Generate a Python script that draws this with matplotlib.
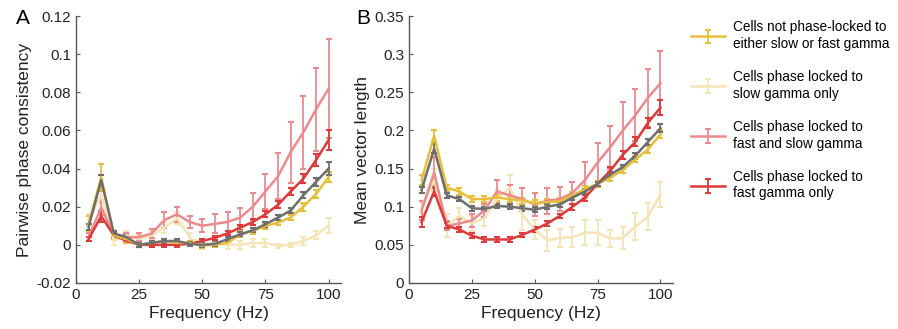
import numpy as np
import matplotlib
matplotlib.use('Agg')
import matplotlib.pyplot as plt

plt.rcParams['font.family'] = ['Liberation Sans', 'DejaVu Sans']

# Frequencies (Hz)
freq = [5, 10, 15, 20, 25, 30, 35, 40, 45, 50, 55, 60, 65, 70, 75, 80, 85, 90, 95, 100]

# Panel A: pairwise phase consistency
ppc_none = [0.011, 0.0355, 0.005, 0.003, 0.0, 0.001, 0.002, 0.001, 0.001, -0.0005,
            0.0, 0.001, 0.0055, 0.0073, 0.0099, 0.0117, 0.0143, 0.020, 0.0267, 0.0356]
ppc_none_err = [0.004, 0.007, 0.002, 0.002, 0.001, 0.001, 0.001, 0.001, 0.001, 0.001,
                0.001, 0.001, 0.0015, 0.0015, 0.0015, 0.0015, 0.0015, 0.002, 0.002, 0.0025]
ppc_slow = [0.013, 0.026, 0.002, 0.005, 0.003, 0.005, 0.009, 0.014, 0.004, 0.0,
            0.001, 0.0, 0.0, 0.001, 0.001, -0.0005, 0.0, 0.002, 0.005, 0.010]
ppc_slow_err = [0.003, 0.004, 0.002, 0.002, 0.002, 0.002, 0.003, 0.003, 0.002, 0.002,
                0.002, 0.002, 0.002, 0.002, 0.002, 0.001, 0.001, 0.002, 0.002, 0.004]
ppc_both = [0.004, 0.0196, 0.005, 0.004, 0.004, 0.006, 0.013, 0.016, 0.012, 0.010,
            0.011, 0.012, 0.0143, 0.020, 0.028, 0.036, 0.0487, 0.059, 0.071, 0.082]
ppc_both_err = [0.002, 0.004, 0.002, 0.002, 0.002, 0.0025, 0.004, 0.004, 0.003, 0.0035,
                0.005, 0.005, 0.005, 0.007, 0.009, 0.012, 0.016, 0.019, 0.022, 0.026]
ppc_fast = [0.003, 0.015, 0.005, 0.002, 0.0, 0.0, 0.0, 0.0, 0.0005, 0.002,
            0.0037, 0.006, 0.009, 0.012, 0.016, 0.021, 0.028, 0.0347, 0.0444, 0.055]
ppc_fast_err = [0.001, 0.003, 0.001, 0.001, 0.001, 0.001, 0.001, 0.001, 0.001, 0.001,
                0.001, 0.001, 0.0012, 0.0015, 0.0015, 0.0018, 0.002, 0.0025, 0.003, 0.005]
ppc_all = [0.0094, 0.034, 0.006, 0.004, 0.0, 0.001, 0.002, 0.002, 0.0005, 0.0,
           0.0005, 0.003, 0.0055, 0.0076, 0.0108, 0.0143, 0.018, 0.026, 0.033, 0.040]
ppc_all_err = [0.0015, 0.0025, 0.001, 0.001, 0.001, 0.001, 0.001, 0.001, 0.001, 0.001,
               0.001, 0.001, 0.001, 0.001, 0.0012, 0.0012, 0.0015, 0.0015, 0.002, 0.0035]

# Panel B: mean vector length
mvl_none = [0.135, 0.193, 0.125, 0.12, 0.11, 0.11, 0.112, 0.11, 0.108, 0.105,
            0.106, 0.107, 0.115, 0.123, 0.13, 0.138, 0.148, 0.162, 0.175, 0.195]
mvl_none_err = [0.006, 0.008, 0.004, 0.004, 0.004, 0.004, 0.004, 0.004, 0.004, 0.004,
                0.004, 0.004, 0.004, 0.004, 0.004, 0.004, 0.004, 0.004, 0.005, 0.005]
mvl_slow = [0.10, 0.135, 0.075, 0.088, 0.078, 0.085, 0.11, 0.125, 0.09, 0.07,
            0.056, 0.059, 0.060, 0.066, 0.066, 0.058, 0.059, 0.074, 0.087, 0.116]
mvl_slow_err = [0.008, 0.015, 0.015, 0.01, 0.01, 0.01, 0.012, 0.017, 0.02, 0.012,
                0.014, 0.012, 0.013, 0.016, 0.016, 0.011, 0.014, 0.018, 0.018, 0.017]
mvl_both = [0.095, 0.145, 0.075, 0.078, 0.082, 0.095, 0.12, 0.115, 0.11, 0.103,
            0.108, 0.11, 0.118, 0.135, 0.158, 0.178, 0.20, 0.22, 0.243, 0.262]
mvl_both_err = [0.012, 0.02, 0.006, 0.006, 0.008, 0.008, 0.015, 0.013, 0.015, 0.015,
                0.017, 0.016, 0.015, 0.023, 0.025, 0.028, 0.037, 0.034, 0.038, 0.042]
mvl_fast = [0.080, 0.120, 0.075, 0.070, 0.062, 0.057, 0.057, 0.057, 0.063, 0.070,
            0.078, 0.088, 0.100, 0.112, 0.130, 0.147, 0.168, 0.185, 0.210, 0.230]
mvl_fast_err = [0.007, 0.006, 0.003, 0.003, 0.003, 0.003, 0.003, 0.003, 0.003, 0.003,
                0.003, 0.003, 0.004, 0.004, 0.004, 0.005, 0.005, 0.006, 0.007, 0.010]
mvl_all = [0.122, 0.176, 0.115, 0.11, 0.098, 0.097, 0.101, 0.1, 0.098, 0.096,
           0.1, 0.103, 0.112, 0.12, 0.13, 0.142, 0.152, 0.167, 0.185, 0.203]
mvl_all_err = [0.004, 0.006, 0.003, 0.003, 0.003, 0.003, 0.003, 0.003, 0.003, 0.003,
               0.003, 0.003, 0.003, 0.003, 0.003, 0.003, 0.003, 0.004, 0.004, 0.005]

labels = ['Cells not phase-locked to\neither slow or fast gamma',
          'Cells phase locked to\nslow gamma only',
          'Cells phase locked to\nfast and slow gamma',
          'Cells phase locked to\nfast gamma only']

c_none = '#e8bf3c'
c_slow = '#f5e4b4'
c_both = '#ec8a8e'
c_fast = '#dd3a3c'
c_all = '#6e6e6e'


def draw(ax, series):
    handles = []
    for y, e, c in series:
        h = ax.errorbar(freq, y, yerr=e, color=c, lw=1.8, elinewidth=1.3,
                        capsize=2.5, capthick=1.5)
        handles.append(h)
    ax.set_xlim(0, 105)
    ax.set_xticks([0, 25, 50, 75, 100])
    ax.spines['top'].set_visible(False)
    ax.spines['right'].set_visible(False)
    for s in ['left', 'bottom']:
        ax.spines[s].set_color('#555555')
        ax.spines[s].set_linewidth(1.0)
    ax.tick_params(direction='in', length=3, labelsize=11, colors='#555555',
                   labelcolor='#222222')
    ax.set_xlabel('Frequency (Hz)', fontsize=12.5, color='#222222', labelpad=3)
    return handles


fig = plt.figure(figsize=(8.98, 3.29), dpi=100)
ax1 = fig.add_axes([0.0846, 0.140, 0.2954, 0.811])
ax2 = fig.add_axes([0.4555, 0.140, 0.2940, 0.811])

hA = draw(ax1, [(ppc_slow, ppc_slow_err, c_slow), (ppc_both, ppc_both_err, c_both),
                (ppc_fast, ppc_fast_err, c_fast), (ppc_none, ppc_none_err, c_none),
                (ppc_all, ppc_all_err, c_all)])
ax1.set_ylim(-0.02, 0.12)
ax1.set_yticks([-0.02, 0, 0.02, 0.04, 0.06, 0.08, 0.1, 0.12])
ax1.set_yticklabels(['-0.02', '0', '0.02', '0.04', '0.06', '0.08', '0.1', '0.12'])
ax1.set_ylabel('Pairwise phase consistency', fontsize=12.5, color='#222222', labelpad=3)

draw(ax2, [(mvl_slow, mvl_slow_err, c_slow), (mvl_both, mvl_both_err, c_both),
           (mvl_fast, mvl_fast_err, c_fast), (mvl_none, mvl_none_err, c_none),
           (mvl_all, mvl_all_err, c_all)])
ax2.set_ylim(0, 0.35)
ax2.set_yticks([0, 0.05, 0.1, 0.15, 0.2, 0.25, 0.3, 0.35])
ax2.set_yticklabels(['0', '0.05', '0.1', '0.15', '0.2', '0.25', '0.3', '0.35'])
ax2.set_ylabel('Mean vector length', fontsize=12.5, color='#222222', labelpad=3)

fig.text(0.018, 0.927, 'A', fontsize=15, va='baseline')
fig.text(0.397, 0.927, 'B', fontsize=15, va='baseline')

# legend in the order of the reference
fig.legend([hA[3], hA[0], hA[1], hA[2]], labels, loc='upper left',
           bbox_to_anchor=(0.756, 0.975), frameon=False, fontsize=9.8,
           handlelength=2.5, handletextpad=0.6, labelspacing=1.45)

fig.savefig('out.png', dpi=100)
